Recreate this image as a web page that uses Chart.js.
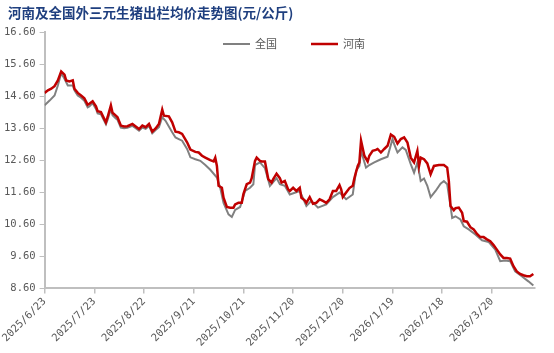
<!DOCTYPE html>
<html>
<head>
<meta charset="utf-8">
<script src="https://cdn.jsdelivr.net/npm/chart.js@4.4.1/dist/chart.umd.min.js"></script>
<style>
  html, body { margin: 0; padding: 0; background: #fff; }
  #wrap { width: 554px; height: 353px; position: relative; }
</style>
</head>
<body>
<div id="wrap"><canvas id="myChart"></canvas></div>
<script>
// day 0 = 2025/6/23
var titleText = '河南及全国外三元生猪出栏均价走势图(元/公斤)';
var seriesNames = ['全国', '河南'];

var henanDays = [0,2,4,6,8,10,12,13,15,17,18,20,22,24,26,27,29,31,32,34,37,38,40,41,43,44,46,48,50,53,55,57,59,61,63,65,67,69,71,72,75,77,79,81,83,86,88,91,93,95,97,100,102,103,104,105,107,108,110,112,114,115,117,119,120,122,124,125,127,128,130,131,133,135,137,138,140,142,143,145,147,148,150,152,154,155,157,158,160,162,164,166,168,170,172,174,176,178,179,180,182,184,186,187,189,190,191,193,195,196,198,200,201,203,205,207,209,211,213,215,217,219,221,223,225,226,227,229,231,233,235,238,241,243,244,245,247,248,250,252,253,255,257,259,261,263,265,267,269,271,273,275,277,279,281,283,285,287,289,291,293,295];
var henanPrices = [14.70,14.78,14.83,14.91,15.09,15.37,15.27,15.09,15.06,15.09,14.83,14.70,14.62,14.53,14.33,14.36,14.44,14.28,14.13,14.10,13.78,13.94,14.31,14.08,13.99,13.94,13.68,13.65,13.66,13.73,13.65,13.57,13.68,13.63,13.73,13.49,13.59,13.73,14.18,13.99,13.97,13.78,13.49,13.47,13.42,13.16,12.93,12.86,12.84,12.74,12.68,12.60,12.56,12.68,12.42,11.80,11.74,11.43,11.14,11.12,11.12,11.22,11.27,11.27,11.54,11.85,11.90,12.04,12.58,12.68,12.58,12.56,12.56,12.01,11.90,12.01,12.18,12.04,11.90,11.95,11.69,11.64,11.74,11.64,11.74,11.43,11.35,11.27,11.45,11.24,11.27,11.38,11.33,11.27,11.38,11.64,11.64,11.82,11.69,11.45,11.59,11.73,11.80,12.04,12.42,12.53,13.21,12.74,12.56,12.74,12.89,12.92,12.95,12.84,12.95,13.05,13.40,13.33,13.12,13.26,13.31,13.15,12.68,12.53,12.89,12.42,12.68,12.63,12.50,12.16,12.42,12.45,12.45,12.37,11.95,11.17,11.04,11.10,11.12,10.96,10.70,10.68,10.51,10.44,10.30,10.20,10.20,10.13,10.07,9.95,9.81,9.66,9.55,9.55,9.53,9.29,9.13,9.05,9.01,8.98,8.98,9.05];

var nationDays = [0,3,6,8,10,12,14,17,18,20,22,24,26,27,29,31,32,34,37,38,40,41,43,44,46,48,50,53,55,57,59,61,63,65,67,69,71,73,77,79,81,83,86,88,91,94,97,100,104,106,108,111,113,115,118,121,124,126,127,130,133,136,140,142,145,148,154,158,161,165,170,174,178,182,186,188,190,191,194,196,199,203,207,210,211,213,216,218,221,223,225,227,229,231,233,236,239,241,243,245,246,248,251,253,256,260,264,268,272,275,278,281,284,288,292,295];
var nationPrices = [14.31,14.46,14.62,14.93,15.31,15.14,14.93,14.93,14.78,14.62,14.55,14.45,14.25,14.28,14.38,14.20,14.06,14.03,13.72,13.86,14.20,14.00,13.90,13.86,13.62,13.60,13.61,13.67,13.60,13.52,13.62,13.58,13.67,13.44,13.54,13.63,13.94,13.83,13.47,13.31,13.26,13.21,12.95,12.69,12.63,12.58,12.45,12.30,12.06,11.74,11.27,10.91,10.83,11.05,11.14,11.64,11.74,11.85,12.45,12.53,12.35,11.80,12.04,11.85,11.80,11.53,11.64,11.17,11.33,11.12,11.22,11.45,11.59,11.38,11.53,12.27,12.42,12.89,12.37,12.45,12.53,12.63,12.71,13.26,13.10,12.84,13.00,12.92,12.48,12.21,12.53,11.95,12.03,11.80,11.45,11.64,11.87,11.95,11.85,11.17,10.80,10.85,10.75,10.54,10.44,10.28,10.10,10.05,9.81,9.45,9.47,9.45,9.13,8.98,8.82,8.69];

var yMin = 8.6, yMax = 16.6, yStep = 1;
var xMax = 296, xStep = 30;

function dayLabel(d) {
  var dt = new Date(2025, 5, 23 + d);
  return dt.getFullYear() + '/' + (dt.getMonth() + 1) + '/' + dt.getDate();
}

function toPoints(days, vals) {
  var out = [];
  for (var i = 0; i < days.length; i++) out.push({x: days[i], y: vals[i]});
  return out;
}

// title + legend drawn on canvas
var decor = {
  id: 'decor',
  afterDraw: function(chart) {
    var c = chart.ctx;
    c.save();
    c.font = 'bold 13.5px "Noto Sans CJK SC"';
    c.fillStyle = '#1F3F7F';
    c.textBaseline = 'middle';
    c.textAlign = 'left';
    c.fillText(titleText, 8, 13);

    var ds = chart.data.datasets;
    var x = 223, y = 44;
    c.font = '11px "Noto Sans CJK SC"';
    for (var i = 0; i < ds.length; i++) {
      c.strokeStyle = ds[i].borderColor;
      c.lineWidth = ds[i].borderWidth;
      c.beginPath();
      c.moveTo(x, y);
      c.lineTo(x + 27, y);
      c.stroke();
      c.fillStyle = '#595959';
      c.fillText(ds[i].label, x + 32, y);
      x += 88;
    }
    c.restore();
  }
};

var ctx = document.getElementById('myChart');
var myChart = new Chart(ctx, {
  type: 'line',
  data: {
    datasets: [{
      label: seriesNames[0],
      data: toPoints(nationDays, nationPrices),
      borderColor: '#808080',
      borderWidth: 2,
      pointRadius: 0,
      tension: 0,
      fill: false,
      order: 1
    }, {
      label: seriesNames[1],
      data: toPoints(henanDays, henanPrices),
      borderColor: '#C00000',
      borderWidth: 2.5,
      pointRadius: 0,
      tension: 0,
      fill: false,
      order: 0
    }]
  },
  options: {
    responsive: true,
    maintainAspectRatio: false,
    animation: false,
    layout: { padding: { top: 32, left: 0, right: 19, bottom: 2 } },
    plugins: {
      legend: { display: false },
      title: { display: false },
      tooltip: { enabled: false }
    },
    scales: {
      x: {
        type: 'linear',
        min: 0,
        max: xMax,
        afterBuildTicks: function(axis) {
          axis.ticks = axis.ticks.filter(function(t) { return t.value % xStep === 0; });
        },
        ticks: {
          stepSize: xStep,
          autoSkip: false,
          maxRotation: 45,
          minRotation: 45,
          padding: 2,
          color: '#595959',
          font: { family: 'DejaVu Sans Mono', size: 10.5 },
          callback: function(v) { return dayLabel(v); }
        },
        grid: { drawOnChartArea: false, drawTicks: true, tickLength: 5, color: '#BFBFBF', lineWidth: 1.5 },
        border: { display: true, color: '#BFBFBF', width: 2 }
      },
      y: {
        min: yMin,
        max: yMax,
        ticks: {
          stepSize: yStep,
          padding: 4,
          color: '#595959',
          font: { family: 'DejaVu Sans Mono', size: 10.5 },
          callback: function(v) { return v.toFixed(2); }
        },
        grid: { drawOnChartArea: false, drawTicks: true, tickLength: 5, color: '#BFBFBF', lineWidth: 1 },
        border: { display: true, color: '#BFBFBF', width: 2 }
      }
    }
  },
  plugins: [decor]
});
</script>
</body>
</html>
